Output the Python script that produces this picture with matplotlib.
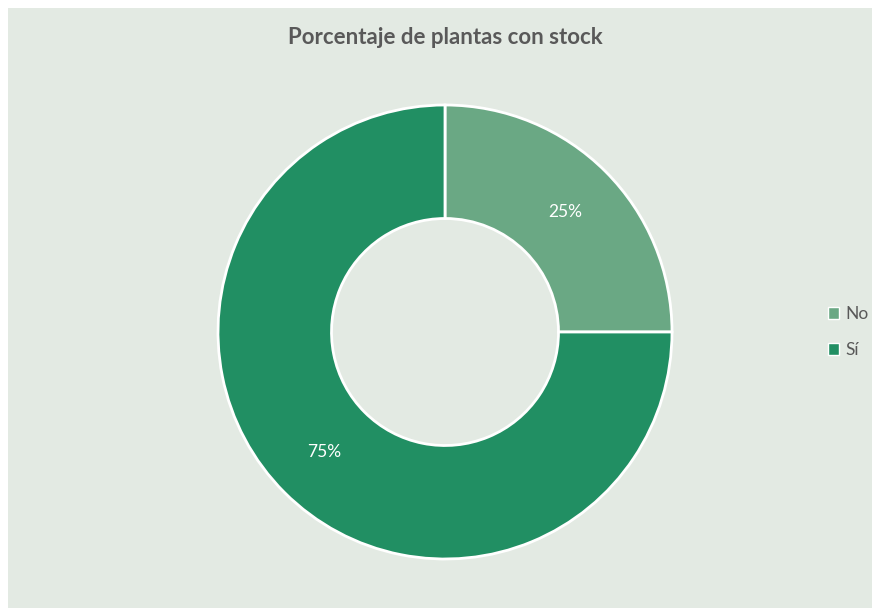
import matplotlib
matplotlib.use("Agg")
import matplotlib.pyplot as plt
from matplotlib.patches import Rectangle, Patch

labels = ["No", "Sí"]
values = [25, 75]
colors = ["#6AA884", "#218F63"]
title = "Porcentaje de plantas con stock"

W, H = 872, 608
fig = plt.figure(figsize=(W / 100, H / 100), dpi=100)
fig.patch.set_facecolor("white")
bg = "#E3EAE3"
fig.patches.append(Rectangle((8 / W, 0), 1 - 8 / W, 1 - 8 / H, transform=fig.transFigure,
                             facecolor=bg, edgecolor="none", zorder=-10))

cx, cy, r = 445, 332, 227
ax = fig.add_axes([(cx - r) / W, (H - cy - r) / H, 2 * r / W, 2 * r / H])
ax.set_facecolor("none")
ax.set_zorder(5)
wedges, texts, autotexts = ax.pie(
    values, colors=colors, startangle=90, counterclock=False,
    autopct="%d%%", pctdistance=0.75,
    wedgeprops=dict(width=0.5, edgecolor="white", linewidth=2),
    textprops=dict(color="white", fontsize=12.5, family="Lato"))
ax.set_xlim(-1, 1)
ax.set_ylim(-1, 1)
ax.set_aspect("equal")
ax.axis("off")

fig.text(445 / W, 1 - 37 / H, title, ha="center", va="center", fontsize=16,
         fontweight="bold", color="#595959", family="Lato")

handles = [Patch(facecolor=c, edgecolor="white", linewidth=1) for c in colors]
leg = fig.legend(handles, labels, loc="center left", bbox_to_anchor=(812 / W, 1 - 332 / H),
                 frameon=False, handlelength=0.65, handleheight=0.65,
                 handletextpad=0.35, labelspacing=1.15, labelcolor="#595959",
                 prop=dict(family="Lato", size=12.5))

fig.savefig("out.png", dpi=100, facecolor="white")
